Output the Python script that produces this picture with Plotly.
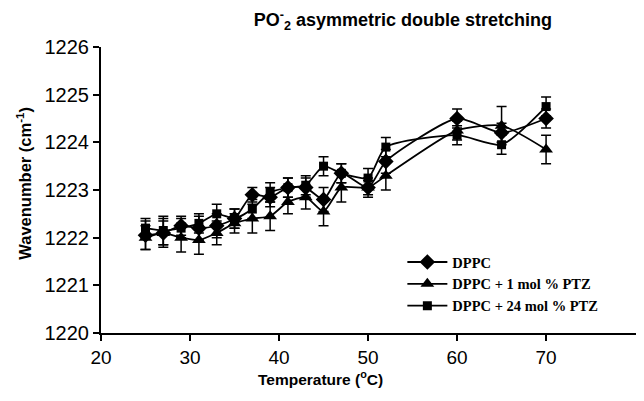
import plotly.graph_objects as go

temps = [25, 27, 29, 31, 33, 35, 37, 39, 41, 43, 45, 47, 50, 52, 60, 65, 70]

dppc = [1222.05, 1222.1, 1222.25, 1222.2, 1222.25, 1222.4, 1222.9, 1222.85, 1223.05, 1223.05,
        1222.8, 1223.35, 1223.05, 1223.6, 1224.5, 1224.2, 1224.5]
dppc_err = [0.3, 0.3, 0.2, 0.25, 0.25, 0.2, 0.15, 0.2, 0.2, 0.2, 0.25, 0.2, 0.15, 0.25, 0.2, 0.2, 0.2]

ptz1 = [1222.0, 1222.1, 1222.0, 1221.95, 1222.1, 1222.3, 1222.4, 1222.45, 1222.75, 1222.85,
        1222.55, 1223.05, 1223.05, 1223.3, 1224.25, 1224.35, 1223.85]
ptz1_err = [0.25, 0.25, 0.3, 0.3, 0.25, 0.2, 0.3, 0.3, 0.25, 0.25, 0.3, 0.3, 0.2, 0.3, 0.2, 0.4, 0.3]

ptz24 = [1222.2, 1222.15, 1222.2, 1222.3, 1222.5, 1222.4, 1222.6, 1222.95, 1223.05, 1223.1,
         1223.5, 1223.35, 1223.25, 1223.9, 1224.15, 1223.95, 1224.75]
ptz24_err = [0.2, 0.3, 0.2, 0.2, 0.2, 0.2, 0.2, 0.2, 0.2, 0.2, 0.2, 0.2, 0.2, 0.2, 0.2, 0.2, 0.2]

series = [
    ("DPPC", dppc, dppc_err, "diamond", 12),
    ("DPPC + 1 mol % PTZ", ptz1, ptz1_err, "triangle-up", 12),
    ("DPPC + 24 mol % PTZ", ptz24, ptz24_err, "square", 9),
]

x_title = "<b>Temperature (<sup>o</sup>C)</b>"
y_title = "<b>Wavenumber (cm<sup>-1</sup>)</b>"
main_title = "<b>PO<sup>-</sup><sub>2</sub> asymmetric double stretching</b>"

fig = go.Figure()
for name, ys, errs, sym, size in series:
    fig.add_trace(go.Scatter(
        x=temps, y=ys, name=name, mode="lines+markers",
        line=dict(color="black", width=1.8, shape="spline", smoothing=0.6),
        marker=dict(symbol=sym, size=size, color="black"),
        error_y=dict(type="data", array=errs, visible=True, color="black", thickness=1.5, width=5),
    ))

fig.update_layout(
    width=636, height=385,
    margin=dict(l=93, r=0, t=39, b=60),
    paper_bgcolor="white", plot_bgcolor="white",
    font=dict(family="Arial, Liberation Sans, sans-serif", color="black"),
    title=dict(text=main_title,
               x=0.621, xanchor="center", y=0.969, yanchor="middle",
               font=dict(size=18, color="black")),
    showlegend=True,
    legend=dict(x=0.555, y=0.304, xanchor="left", yanchor="top",
                font=dict(family="Liberation Serif, Times New Roman, serif", size=14.5, color="black",
                          weight="bold"),
                bgcolor="rgba(0,0,0,0)", itemwidth=40, tracegroupgap=0,
                traceorder="normal"),
    xaxis=dict(range=[20, 81.0], tickvals=[20, 30, 40, 50, 60, 70],
               showline=True, linecolor="black", linewidth=2,
               ticks="outside", ticklen=6, tickwidth=2, tickcolor="black",
               showgrid=False, zeroline=False,
               tickfont=dict(size=19, color="black")),
    yaxis=dict(range=[1220, 1226], dtick=1,
               showline=True, linecolor="black", linewidth=2,
               ticks="outside", ticklen=6, tickwidth=2, tickcolor="black",
               showgrid=False, zeroline=False,
               tickfont=dict(size=20, color="black")),
    annotations=[
        dict(text=x_title, xref="paper", yref="paper", x=0.405, y=-0.157,
             xanchor="center", yanchor="middle", showarrow=False,
             font=dict(size=15.5, color="black")),
        dict(text=y_title, xref="paper", yref="paper", x=-0.142, y=0.525,
             xanchor="center", yanchor="middle", showarrow=False, textangle=-90,
             font=dict(size=16.5, color="black")),
    ],
)

fig.write_html("out.html")
